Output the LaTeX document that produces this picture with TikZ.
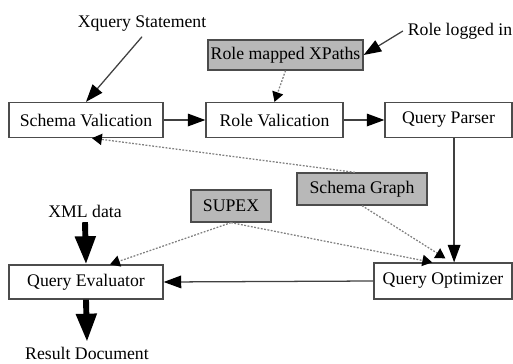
\documentclass[tikz,border=0pt]{standalone}
\usepackage{fontspec}
\setmainfont{Liberation Serif}
\usetikzlibrary{arrows.meta}

\begin{document}
\begin{tikzpicture}[x=0.025cm,y=-0.025cm,
  font=\fontsize{12.6}{15}\selectfont,
  box/.style={draw=black!70,line width=0.9pt,fill=white,inner sep=0pt},
  graybox/.style={box,fill=black!28},
  flow/.style={draw=black!75,line width=0.9pt,-{Triangle[length=12.5pt,width=9pt,black]}},
  hint/.style={draw=black!50,line width=0.9pt,dash pattern=on 1.3pt off 1.1pt,
    -{Triangle[length=7pt,width=8pt,black]}},
  bigflow/.style={draw=black,line width=4.2pt,-{Triangle[length=20pt,width=14pt]}}]

\useasboundingbox (0,0) rectangle (513,363);

% boxes
\node [box,minimum width=3.85cm,minimum height=0.875cm] (schema) at (86,120) {Schema Valication};
\node [box,minimum width=3.425cm,minimum height=0.875cm] (role) at (274.5,120) {Role Valication};
\node [box,minimum width=3.175cm,minimum height=0.875cm] (parser) at (448.5,120) {Query Parser};
\node [graybox,minimum width=3.875cm,minimum height=0.75cm] (xpaths) at (285.5,55) {Role mapped XPaths};
\node [graybox,minimum width=3.25cm,minimum height=0.8cm] (graph) at (362,189) {Schema Graph};
\node [graybox,minimum width=2cm,minimum height=0.8cm] (supex) at (231,206) {SUPEX};
\node [box,minimum width=3.85cm,minimum height=0.85cm] (evaluator) at (86,282) {Query Evaluator};
\node [box,minimum width=3.45cm,minimum height=0.9cm] (optimizer) at (443,281) {Query Optimizer};

% inputs and outputs
\node (stmt) at (142,24) {Xquery Statement};
\node (login) at (460,31) {Role logged in};
\node (xml) at (85,211) {XML data};
\node (result) at (87,353) {Result Document};

% main flow
\draw [flow] (stmt.south) -- (schema.north);
\draw [flow] (login.west) -- (xpaths.east);
\draw [flow] (schema.east) -- (role.west);
\draw [flow] (role.east) -- (parser.west);
\draw [flow] ([xshift=0.14cm]parser.south) -- ([xshift=0.14cm]parser.south |- optimizer.north);
\draw [flow] (optimizer.west) -- (evaluator.east);

% dotted helpers
\draw [hint] (xpaths.south) -- (role.north);
\draw [hint] ([xshift=-0.18cm]graph.north) -- ([xshift=0.15cm]schema.south);
\draw [hint] (graph.south) -- ([xshift=0.06cm,yshift=0.1cm]optimizer.north);
\draw [hint] (supex.south) -- ([xshift=0.6cm]evaluator.north);
\draw [hint] (supex.south) -- ([xshift=-0.27cm]optimizer.north);

% data in and out
\draw [bigflow] (xml.south) -- (evaluator.north);
\draw [bigflow] (evaluator.south) -- (result.north);

\end{tikzpicture}
\end{document}
